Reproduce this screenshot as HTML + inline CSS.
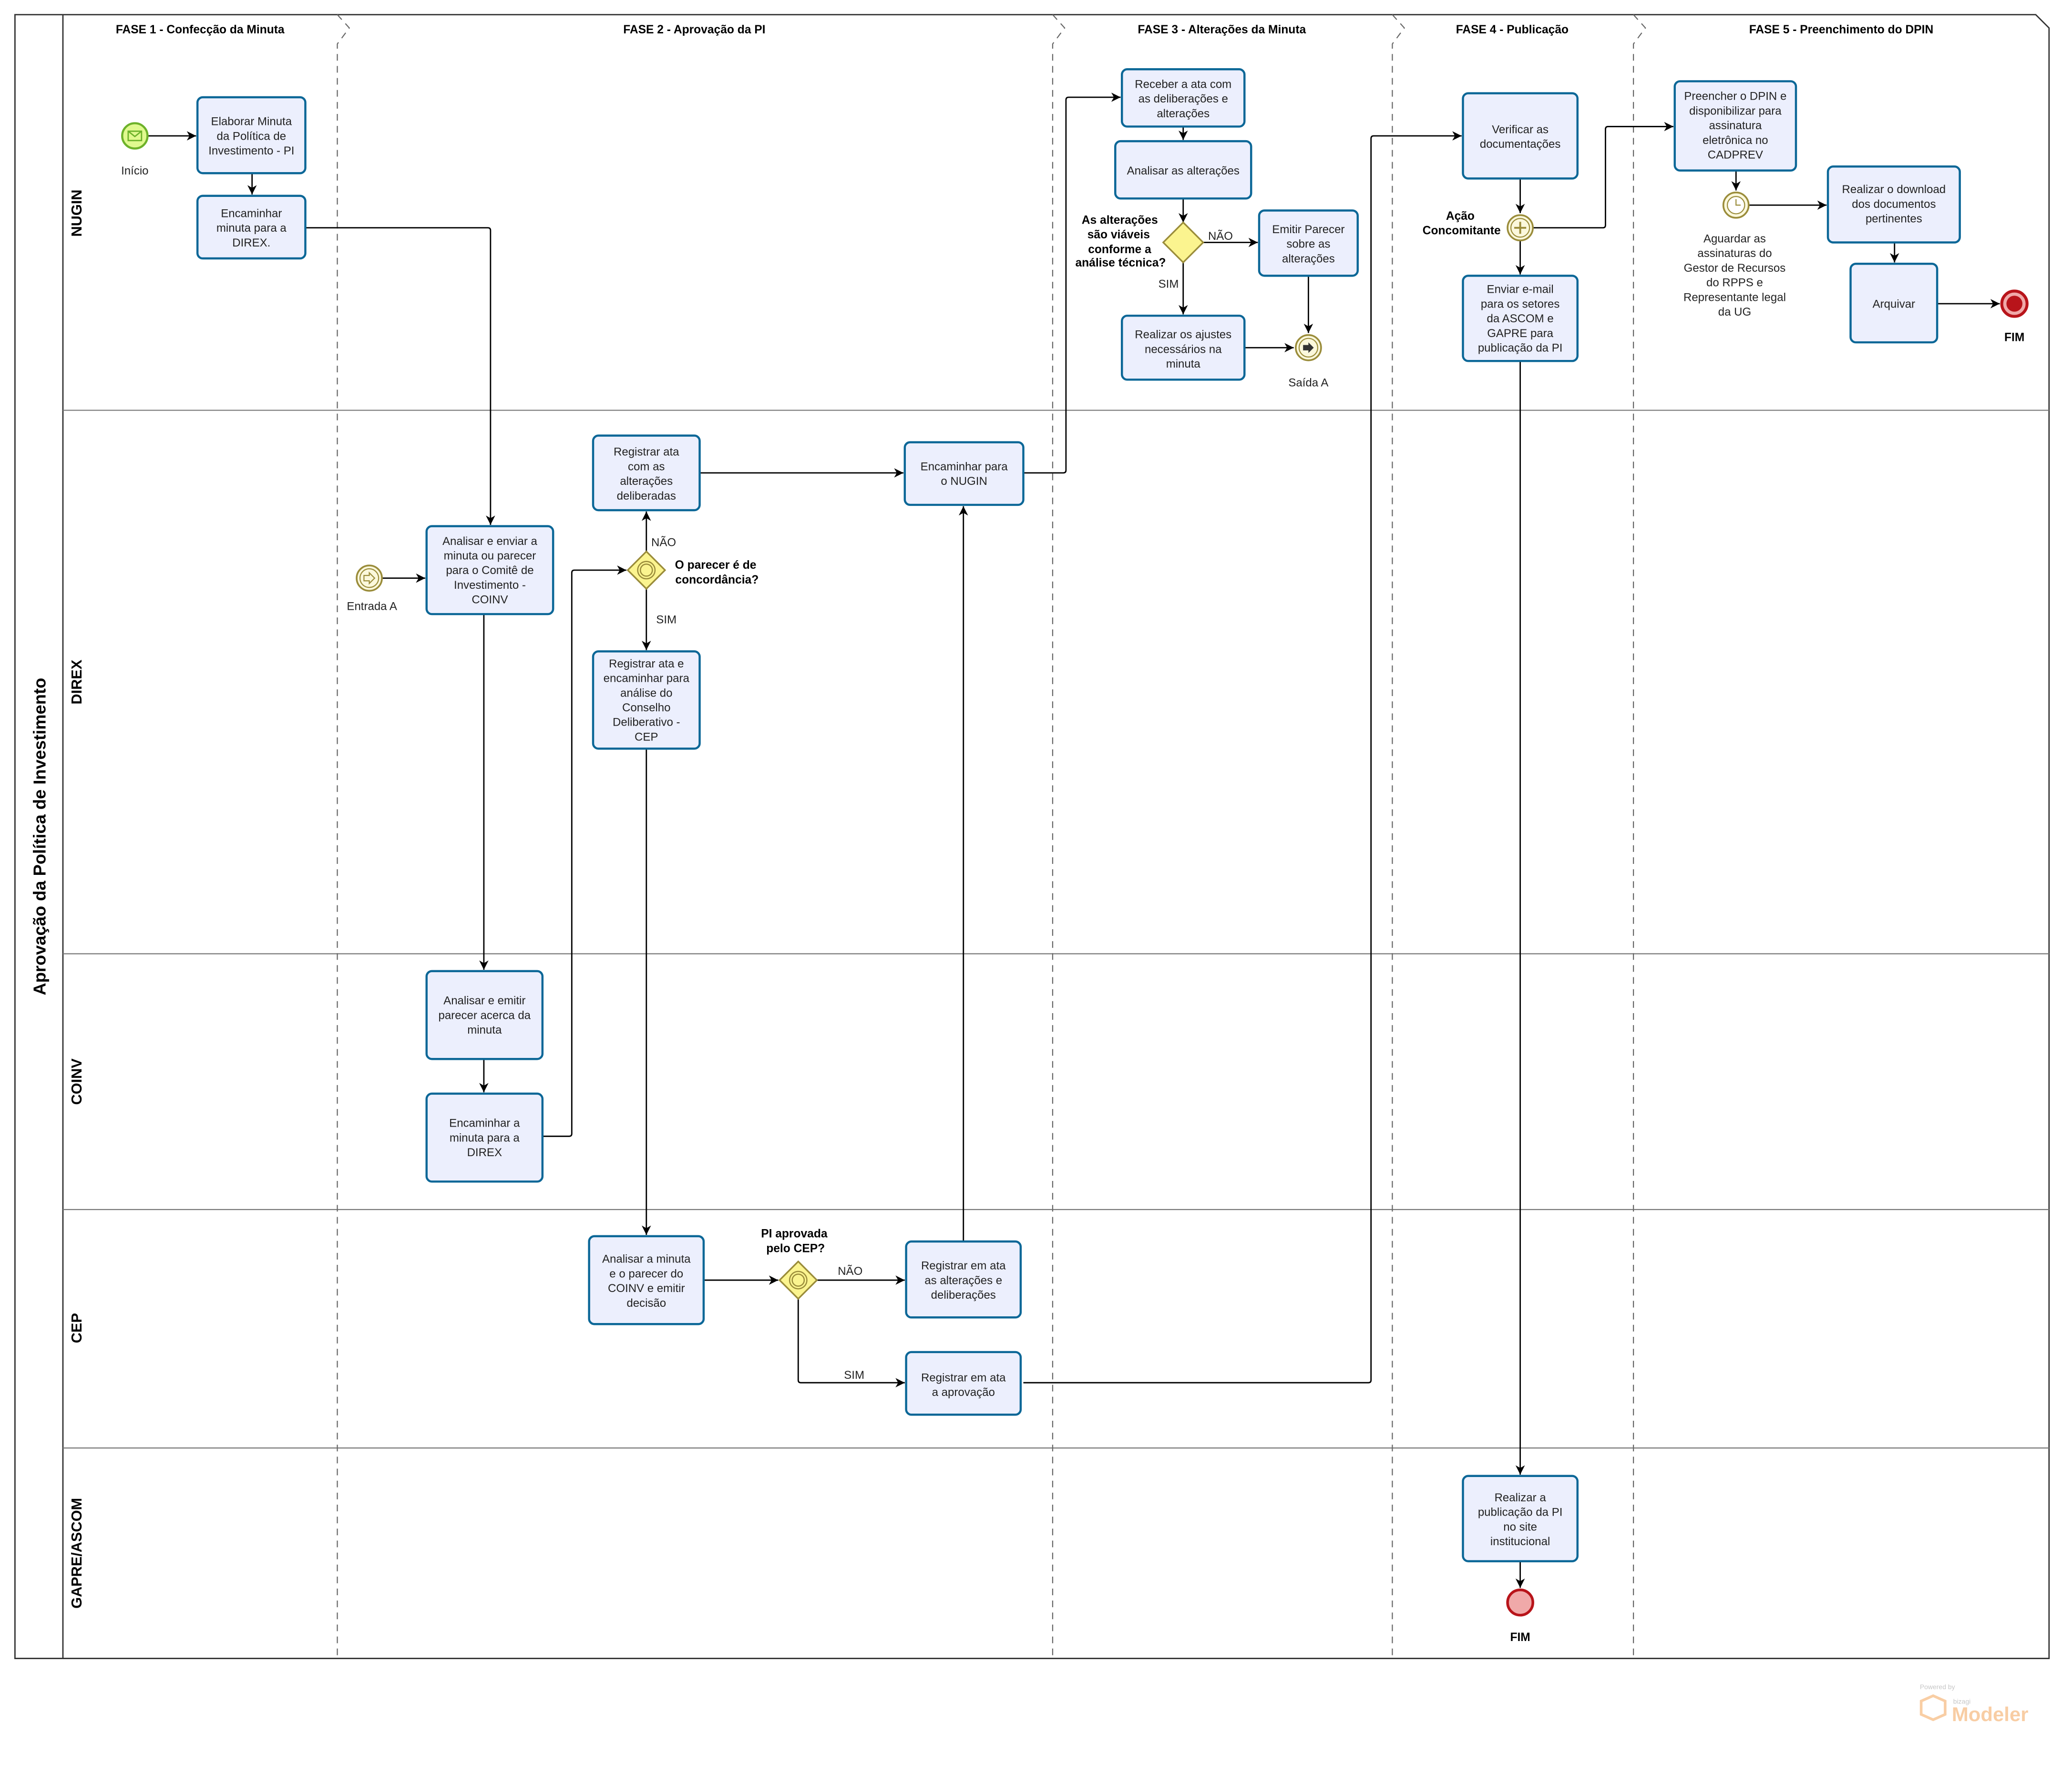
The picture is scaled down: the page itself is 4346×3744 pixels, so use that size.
<!DOCTYPE html>
<html><head><meta charset="utf-8"><style>
html,body{margin:0;padding:0;background:#fff;}
svg{display:block;}
text{font-family:"Liberation Sans",sans-serif;}
.t{font-size:8.6px;fill:#222;text-anchor:middle;}
.b{font-size:8.8px;font-weight:bold;fill:#000;text-anchor:middle;}
.task{fill:#eceffd;stroke:#0b6797;stroke-width:1.6;}
.ln{fill:none;stroke:#000;stroke-width:1;marker-end:url(#ar);}
.dash{stroke:#666;stroke-width:0.8;stroke-dasharray:5,4;fill:none;}
</style></head><body>
<svg width="4346" height="3744" viewBox="0 0 1555 1340" xmlns="http://www.w3.org/2000/svg">
<defs><marker id="ar" markerWidth="8" markerHeight="8" refX="7" refY="4" orient="auto" markerUnits="userSpaceOnUse"><path d="M0,0.5 L7,4 L0,7.5 L2,4 Z" fill="#000"/></marker></defs>
<rect width="1555" height="1340" fill="#fff"/>
<!-- pool -->
<path d="M11,11 H1528 L1538,21 V1245 H11 Z" fill="none" stroke="#333" stroke-width="1"/>
<line x1="47" y1="11" x2="47" y2="1245" stroke="#333"/>
<g stroke="#777" stroke-width="0.8">
<line x1="47" y1="308" x2="1538" y2="308"/><line x1="47" y1="716" x2="1538" y2="716"/>
<line x1="47" y1="908" x2="1538" y2="908"/><line x1="47" y1="1087" x2="1538" y2="1087"/></g>
<g class="dash">
<path d="M253,11 L262,21 L253,33 V1245"/><path d="M790,11 L799,21 L790,33 V1245"/>
<path d="M1045,11 L1054,21 L1045,33 V1245"/><path d="M1226,11 L1235,21 L1226,33 V1245"/>
</g>
<text class="b" x="150" y="25">FASE 1 - Confecção da Minuta</text>
<text class="b" x="521" y="25">FASE 2 - Aprovação da PI</text>
<text class="b" x="917" y="25">FASE 3 - Alterações da Minuta</text>
<text class="b" x="1135" y="25">FASE 4 - Publicação</text>
<text class="b" x="1382" y="25">FASE 5 - Preenchimento do DPIN</text>
<g font-weight="bold" font-size="11" text-anchor="middle">
<text transform="translate(61,160) rotate(-90)">NUGIN</text>
<text transform="translate(61,512) rotate(-90)">DIREX</text>
<text transform="translate(61,812) rotate(-90)">COINV</text>
<text transform="translate(61,997) rotate(-90)">CEP</text>
<text transform="translate(61,1166) rotate(-90)">GAPRE/ASCOM</text>
<text transform="translate(34,628) rotate(-90)" font-size="13">Aprovação da Política de Investimento</text>
</g>
<!-- connectors -->
<path class="ln" d="M111,102 H147"/>
<path class="ln" d="M189,130 V146"/>
<path class="ln" d="M229,171 H366 Q368,171 368,173 V394"/>
<path class="ln" d="M287,434 H319"/>
<path class="ln" d="M363,461 V728"/>
<path class="ln" d="M363,795 V820"/>
<path class="ln" d="M407,853 H427 Q429,853 429,851 V430 Q429,428 431,428 H470"/>
<path class="ln" d="M485,414 V384"/>
<path class="ln" d="M485,442 V488"/>
<path class="ln" d="M525,355 H678"/>
<path class="ln" d="M768,355 H798 Q800,355 800,353 V75 Q800,73 802,73 H841"/>
<path class="ln" d="M888,95 V105"/>
<path class="ln" d="M888,149 V167"/>
<path class="ln" d="M903,182 H944"/>
<path class="ln" d="M888,197 V236"/>
<path class="ln" d="M934,261 H971"/>
<path class="ln" d="M982,207 V250"/>
<path class="ln" d="M485,562 V927"/>
<path class="ln" d="M528,961 H584"/>
<path class="ln" d="M613,961 H679"/>
<path class="ln" d="M723,932 V380"/>
<path class="ln" d="M599,975 V1036 Q599,1038 601,1038 H679"/>
<path class="ln" d="M768,1038 H1027 Q1029,1038 1029,1036 V104 Q1029,102 1031,102 H1097"/>
<path class="ln" d="M1141,134 V160"/>
<path class="ln" d="M1151,171 H1203 Q1205,171 1205,169 V97 Q1205,95 1207,95 H1256"/>
<path class="ln" d="M1141,181 V206"/>
<path class="ln" d="M1141,271 V1107"/>
<path class="ln" d="M1141,1172 V1192"/>
<path class="ln" d="M1303,128 V143"/>
<path class="ln" d="M1313,154 H1371"/>
<path class="ln" d="M1422,182 V197"/>
<path class="ln" d="M1454,228 H1501"/>
<!-- tasks -->
<g>
<rect class="task" x="148" y="73" width="81" height="57" rx="4"/>
<text class="t" x="188.5" y="94">Elaborar Minuta</text><text class="t" x="188.5" y="105">da Política de</text><text class="t" x="188.5" y="116">Investimento - PI</text>
<rect class="task" x="148" y="147" width="81" height="47" rx="4"/>
<text class="t" x="188.5" y="163">Encaminhar</text><text class="t" x="188.5" y="174">minuta para a</text><text class="t" x="188.5" y="185">DIREX.</text>
<rect class="task" x="320" y="395" width="95" height="66" rx="4"/>
<text class="t" x="367.5" y="409">Analisar e enviar a</text><text class="t" x="367.5" y="420">minuta ou parecer</text><text class="t" x="367.5" y="431">para o Comitê de</text><text class="t" x="367.5" y="442">Investimento -</text><text class="t" x="367.5" y="453">COINV</text>
<rect class="task" x="320" y="729" width="87" height="66" rx="4"/>
<text class="t" x="363.5" y="754">Analisar e emitir</text><text class="t" x="363.5" y="765">parecer acerca da</text><text class="t" x="363.5" y="776">minuta</text>
<rect class="task" x="320" y="821" width="87" height="66" rx="4"/>
<text class="t" x="363.5" y="846">Encaminhar a</text><text class="t" x="363.5" y="857">minuta para a</text><text class="t" x="363.5" y="868">DIREX</text>
<rect class="task" x="445" y="327" width="80" height="56" rx="4"/>
<text class="t" x="485" y="342">Registrar ata</text><text class="t" x="485" y="353">com as</text><text class="t" x="485" y="364">alterações</text><text class="t" x="485" y="375">deliberadas</text>
<rect class="task" x="445" y="489" width="80" height="73" rx="4"/>
<text class="t" x="485" y="501">Registrar ata e</text><text class="t" x="485" y="512">encaminhar para</text><text class="t" x="485" y="523">análise do</text><text class="t" x="485" y="534">Conselho</text><text class="t" x="485" y="545">Deliberativo -</text><text class="t" x="485" y="556">CEP</text>
<rect class="task" x="679" y="332" width="89" height="47" rx="4"/>
<text class="t" x="723.5" y="353">Encaminhar para</text><text class="t" x="723.5" y="364">o NUGIN</text>
<rect class="task" x="442" y="928" width="86" height="66" rx="4"/>
<text class="t" x="485" y="948">Analisar a minuta</text><text class="t" x="485" y="959">e o parecer do</text><text class="t" x="485" y="970">COINV e emitir</text><text class="t" x="485" y="981">decisão</text>
<rect class="task" x="680" y="932" width="86" height="57" rx="4"/>
<text class="t" x="723" y="953">Registrar em ata</text><text class="t" x="723" y="964">as alterações e</text><text class="t" x="723" y="975">deliberações</text>
<rect class="task" x="680" y="1015" width="86" height="47" rx="4"/>
<text class="t" x="723" y="1037">Registrar em ata</text><text class="t" x="723" y="1048">a aprovação</text>
<rect class="task" x="842" y="52" width="92" height="43" rx="4"/>
<text class="t" x="888" y="66">Receber a ata com</text><text class="t" x="888" y="77">as deliberações e</text><text class="t" x="888" y="88">alterações</text>
<rect class="task" x="837" y="106" width="102" height="43" rx="4"/>
<text class="t" x="888" y="131">Analisar as alterações</text>
<rect class="task" x="945" y="158" width="74" height="49" rx="4"/>
<text class="t" x="982" y="175">Emitir Parecer</text><text class="t" x="982" y="186">sobre as</text><text class="t" x="982" y="197">alterações</text>
<rect class="task" x="842" y="237" width="92" height="48" rx="4"/>
<text class="t" x="888" y="254">Realizar os ajustes</text><text class="t" x="888" y="265">necessários na</text><text class="t" x="888" y="276">minuta</text>
<rect class="task" x="1098" y="70" width="86" height="64" rx="4"/>
<text class="t" x="1141" y="100">Verificar as</text><text class="t" x="1141" y="111">documentações</text>
<rect class="task" x="1098" y="207" width="86" height="64" rx="4"/>
<text class="t" x="1141" y="220">Enviar e-mail</text><text class="t" x="1141" y="231">para os setores</text><text class="t" x="1141" y="242">da ASCOM e</text><text class="t" x="1141" y="253">GAPRE para</text><text class="t" x="1141" y="264">publicação da PI</text>
<rect class="task" x="1098" y="1108" width="86" height="64" rx="4"/>
<text class="t" x="1141" y="1127">Realizar a</text><text class="t" x="1141" y="1138">publicação da PI</text><text class="t" x="1141" y="1149">no site</text><text class="t" x="1141" y="1160">institucional</text>
<rect class="task" x="1257" y="61" width="91" height="67" rx="4"/>
<text class="t" x="1302.5" y="75">Preencher o DPIN e</text><text class="t" x="1302.5" y="86">disponibilizar para</text><text class="t" x="1302.5" y="97">assinatura</text><text class="t" x="1302.5" y="108">eletrônica no</text><text class="t" x="1302.5" y="119">CADPREV</text>
<rect class="task" x="1372" y="125" width="99" height="57" rx="4"/>
<text class="t" x="1421.5" y="145">Realizar o download</text><text class="t" x="1421.5" y="156">dos documentos</text><text class="t" x="1421.5" y="167">pertinentes</text>
<rect class="task" x="1389" y="198" width="65" height="59" rx="4"/>
<text class="t" x="1421.5" y="231">Arquivar</text>
</g>
<!-- events -->
<circle cx="101" cy="102" r="9.5" fill="#e0f98f" stroke="#6db22a" stroke-width="1.6"/>
<rect x="96" y="98.5" width="10" height="7" fill="none" stroke="#6db22a" stroke-width="1"/><path d="M96,98.5 L101,102.5 L106,98.5" fill="none" stroke="#6db22a" stroke-width="1"/>
<text class="t" x="101" y="131">Início</text>
<circle cx="277" cy="434" r="9.5" fill="#fbf8dc" stroke="#9a8c3a" stroke-width="1.3"/><circle cx="277" cy="434" r="7" fill="none" stroke="#9a8c3a" stroke-width="0.8"/>
<path d="M273,432 h4 v-2 l4,4 l-4,4 v-2 h-4 z" fill="none" stroke="#9a8c3a" stroke-width="0.8"/>
<text class="t" x="279" y="458">Entrada A</text>
<circle cx="982" cy="261" r="9.5" fill="#fbf8dc" stroke="#9a8c3a" stroke-width="1.3"/><circle cx="982" cy="261" r="7" fill="none" stroke="#9a8c3a" stroke-width="0.8"/>
<path d="M978,259 h4 v-2 l4,4 l-4,4 v-2 h-4 z" fill="#333"/>
<text class="t" x="982" y="290">Saída A</text>
<circle cx="1141" cy="171" r="9.5" fill="#fbf8dc" stroke="#9a8c3a" stroke-width="1.3"/><circle cx="1141" cy="171" r="7" fill="none" stroke="#9a8c3a" stroke-width="0.8"/>
<path d="M1141,166.5 V175.5 M1136.5,171 H1145.5" stroke="#9a8c3a" stroke-width="1.4"/>
<text class="b" x="1096" y="165">Ação</text><text class="b" x="1097" y="176">Concomitante</text>
<circle cx="1303" cy="154" r="9.5" fill="#fbf8dc" stroke="#9a8c3a" stroke-width="1.3"/><circle cx="1303" cy="154" r="6.5" fill="#fff" stroke="#9a8c3a" stroke-width="0.8"/>
<path d="M1303,149.5 V154 H1306.5" stroke="#9a8c3a" stroke-width="0.8" fill="none"/>
<text class="t" x="1302" y="182">Aguardar as</text><text class="t" x="1302" y="193">assinaturas do</text><text class="t" x="1302" y="204">Gestor de Recursos</text><text class="t" x="1302" y="215">do RPPS e</text><text class="t" x="1302" y="226">Representante legal</text><text class="t" x="1302" y="237">da UG</text>
<circle cx="1141" cy="1203" r="9.5" fill="#f0a9a9" stroke="#b8141a" stroke-width="2"/>
<text class="b" x="1141" y="1232">FIM</text>
<circle cx="1512" cy="228" r="9.5" fill="#f0a9a9" stroke="#b8141a" stroke-width="2.2"/><circle cx="1512" cy="228" r="6" fill="#b8141a"/>
<text class="b" x="1512" y="256">FIM</text>
<!-- gateways -->
<g>
<path d="M485,414 L499,428 L485,442 L471,428 Z" fill="#fbf48f" stroke="#9a8c3a" stroke-width="1.2"/>
<circle cx="485" cy="428" r="6.5" fill="none" stroke="#9a8c3a" stroke-width="0.9"/><circle cx="485" cy="428" r="4.5" fill="none" stroke="#9a8c3a" stroke-width="0.9"/>
<text class="t" x="498" y="410">NÃO</text><text class="t" x="500" y="468">SIM</text>
<text class="b" x="537" y="427">O parecer é de</text><text class="b" x="538" y="438">concordância?</text>
<path d="M599,947 L613,961 L599,975 L585,961 Z" fill="#fbf48f" stroke="#9a8c3a" stroke-width="1.2"/>
<circle cx="599" cy="961" r="6.5" fill="none" stroke="#9a8c3a" stroke-width="0.9"/><circle cx="599" cy="961" r="4.5" fill="none" stroke="#9a8c3a" stroke-width="0.9"/>
<text class="t" x="638" y="957">NÃO</text><text class="t" x="641" y="1035">SIM</text>
<text class="b" x="596" y="929">PI aprovada</text><text class="b" x="597" y="940">pelo CEP?</text>
<path d="M888,167 L903,182 L888,197 L873,182 Z" fill="#fbf48f" stroke="#9a8c3a" stroke-width="1.2"/>
<text class="t" x="916" y="180">NÃO</text><text class="t" x="877" y="216">SIM</text>
<g text-anchor="end"><text class="b" x="869" y="168" style="text-anchor:end">As alterações</text><text class="b" x="863" y="179" style="text-anchor:end">são viáveis</text><text class="b" x="864" y="190" style="text-anchor:end">conforme a</text><text class="b" x="875" y="200" style="text-anchor:end">análise técnica?</text></g>
</g>
<!-- logo -->
<g opacity="0.55">
<text x="1441" y="1268" font-size="5" fill="#999">Powered by</text>
<path d="M1451,1273 l9,4 v10 l-9,4 l-9,-4 v-10 z" fill="none" stroke="#f4a55a" stroke-width="2"/>
<text x="1466" y="1279" font-size="5" fill="#999">bizagi</text>
<text x="1465" y="1292" font-size="15" fill="#f4a55a" font-weight="bold">Modeler</text>
</g>
</svg>
</body></html>
